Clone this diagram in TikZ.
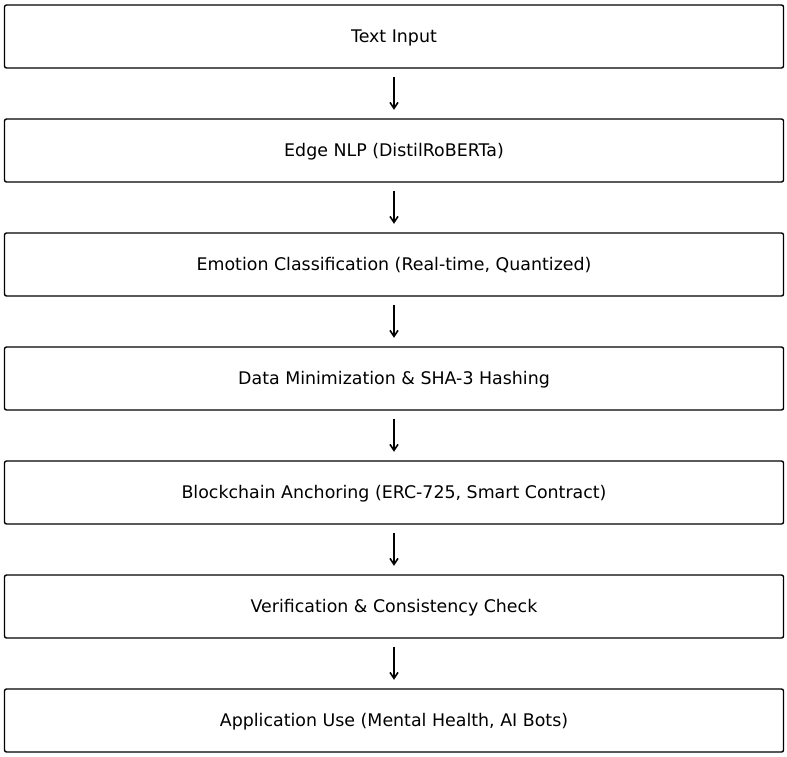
\documentclass[tikz,border=0pt]{standalone}
\usepackage{fontspec}
\setmainfont{DejaVu Sans}
\usetikzlibrary{arrows.meta}
\begin{document}
\begin{tikzpicture}[x=1pt,y=-1pt,
  stagebox/.style={draw=black,line width=1.4pt,rounded corners=2pt,minimum width=779pt,minimum height=63pt,inner sep=0pt,text height=12.3pt,text depth=0pt,font=\fontsize{17.4}{20}\selectfont},
  flowarrow/.style={-{Straight Barb[length=6pt,width=8pt,line width=1.6pt]},line width=1.8pt,shorten <=8pt,shorten >=8.5pt}]
\useasboundingbox (0,0) rectangle (787,757);
\node[stagebox] (n1) at (394,36.5) {Text Input};
\node[stagebox] (n2) at (394,150.5) {Edge NLP (DistilRoBERTa)};
\node[stagebox] (n3) at (394,264.5) {Emotion Classification (Real-time, Quantized)};
\node[stagebox] (n4) at (394,378.5) {Data Minimization \& SHA-3 Hashing};
\node[stagebox] (n5) at (394,492.5) {Blockchain Anchoring (ERC-725, Smart Contract)};
\node[stagebox] (n6) at (394,606.5) {Verification \& Consistency Check};
\node[stagebox] (n7) at (394,720.5) {Application Use (Mental Health, AI Bots)};
\foreach \a/\b in {n1/n2,n2/n3,n3/n4,n4/n5,n5/n6,n6/n7}
  \draw[flowarrow] (\a.south) -- (\b.north);
\end{tikzpicture}
\end{document}
